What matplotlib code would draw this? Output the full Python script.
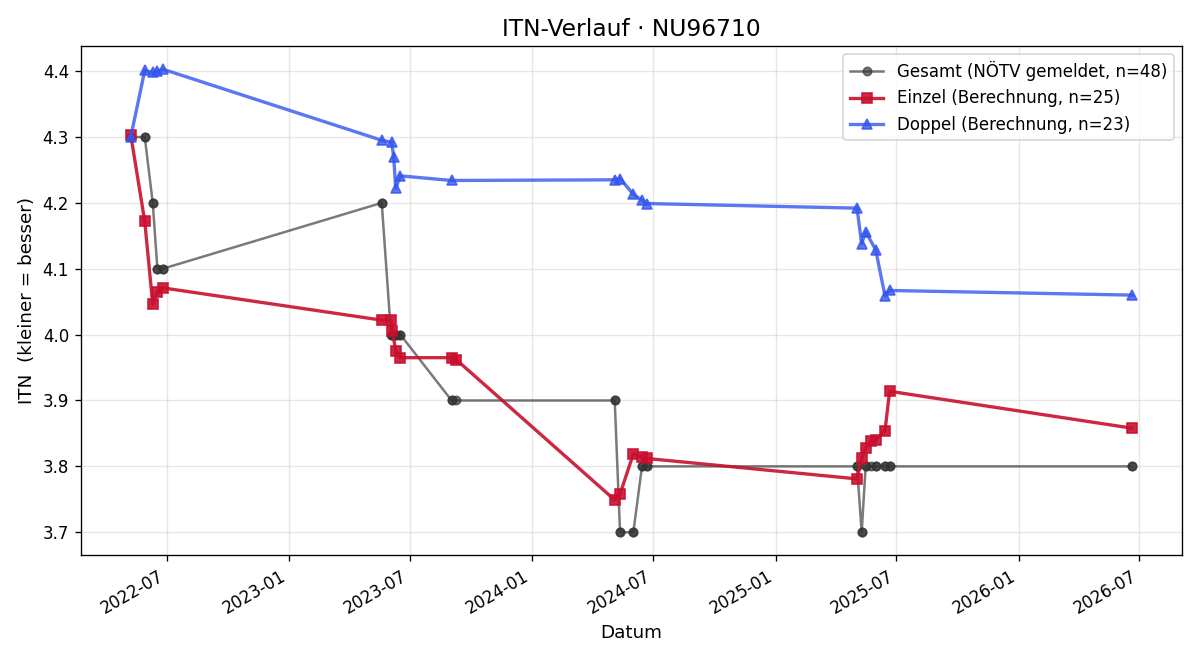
import matplotlib
matplotlib.use("Agg")
import matplotlib.pyplot as plt
import matplotlib.dates as mdates
import pandas as pd

# Einzel (singles) matches
einzel_dates = ["2022-05-08", "2022-05-29", "2022-06-10", "2022-06-17", "2022-06-25",
                "2023-05-20", "2023-06-03", "2023-06-05", "2023-06-10", "2023-06-17",
                "2023-09-02", "2023-09-09",
                "2024-05-04", "2024-05-12", "2024-06-01", "2024-06-14", "2024-06-21",
                "2025-05-03", "2025-05-10", "2025-05-16", "2025-05-24", "2025-05-31",
                "2025-06-14", "2025-06-21",
                "2026-06-20"]
einzel_itn = [4.303, 4.172, 4.046, 4.065, 4.071,
              4.022, 4.022, 4.006, 3.975, 3.965,
              3.965, 3.962,
              3.749, 3.758, 3.819, 3.814, 3.812,
              3.781, 3.812, 3.828, 3.838, 3.840,
              3.854, 3.914,
              3.858]

# Doppel (doubles) matches
doppel_dates = ["2022-05-08", "2022-05-29", "2022-06-10", "2022-06-17", "2022-06-25",
                "2023-05-20", "2023-06-04", "2023-06-07", "2023-06-10", "2023-06-17",
                "2023-09-02",
                "2024-05-04", "2024-05-12", "2024-06-01", "2024-06-14", "2024-06-21",
                "2025-05-03", "2025-05-10", "2025-05-16", "2025-05-31", "2025-06-14",
                "2025-06-21",
                "2026-06-20"]
doppel_itn = [4.300, 4.401, 4.398, 4.400, 4.403,
              4.295, 4.292, 4.270, 4.222, 4.241,
              4.234,
              4.235, 4.237, 4.213, 4.204, 4.199,
              4.192, 4.138, 4.156, 4.129, 4.059,
              4.067,
              4.060]

# officially reported ITN per date
gesamt_itn_by_date = {
    "2022-05-08": 4.3, "2022-05-29": 4.3, "2022-06-10": 4.2, "2022-06-17": 4.1,
    "2022-06-25": 4.1,
    "2023-05-20": 4.2, "2023-06-03": 4.0, "2023-06-04": 4.0, "2023-06-05": 4.0,
    "2023-06-07": 4.0, "2023-06-10": 4.0, "2023-06-17": 4.0, "2023-09-02": 3.9,
    "2023-09-09": 3.9,
    "2024-05-04": 3.9, "2024-05-12": 3.7, "2024-06-01": 3.7, "2024-06-14": 3.8,
    "2024-06-21": 3.8,
    "2025-05-03": 3.8, "2025-05-10": 3.7, "2025-05-16": 3.8, "2025-05-24": 3.8,
    "2025-05-31": 3.8, "2025-06-14": 3.8, "2025-06-21": 3.8,
    "2026-06-20": 3.8,
}

gesamt_dates = sorted(einzel_dates + doppel_dates)
gesamt_itn = [gesamt_itn_by_date[d] for d in gesamt_dates]

fig, ax = plt.subplots(figsize=(10, 5.5), dpi=120)

ax.plot(pd.to_datetime(gesamt_dates), gesamt_itn, marker="o", markersize=5,
        linewidth=1.5, color="#333333", alpha=0.65,
        label=f"Gesamt (NÖTV gemeldet, n={len(gesamt_dates)})")
ax.plot(pd.to_datetime(einzel_dates), einzel_itn, marker="s", markersize=6,
        linewidth=2, color="#c8102e", alpha=0.9,
        label=f"Einzel (Berechnung, n={len(einzel_dates)})")
ax.plot(pd.to_datetime(doppel_dates), doppel_itn, marker="^", markersize=6,
        linewidth=2, color="#3355ee", alpha=0.8,
        label=f"Doppel (Berechnung, n={len(doppel_dates)})")

ax.set_title("ITN-Verlauf · NU96710", fontsize=14)
ax.set_xlabel("Datum", fontsize=11)
ax.set_ylabel("ITN  (kleiner = besser)", fontsize=11)
ax.xaxis.set_major_locator(mdates.MonthLocator(bymonth=[1, 7]))
ax.xaxis.set_major_formatter(mdates.DateFormatter("%Y-%m"))
ax.grid(True, alpha=0.3)
ax.legend(loc="upper right")
fig.autofmt_xdate()

fig.tight_layout()
fig.savefig("out.png", dpi=120)
